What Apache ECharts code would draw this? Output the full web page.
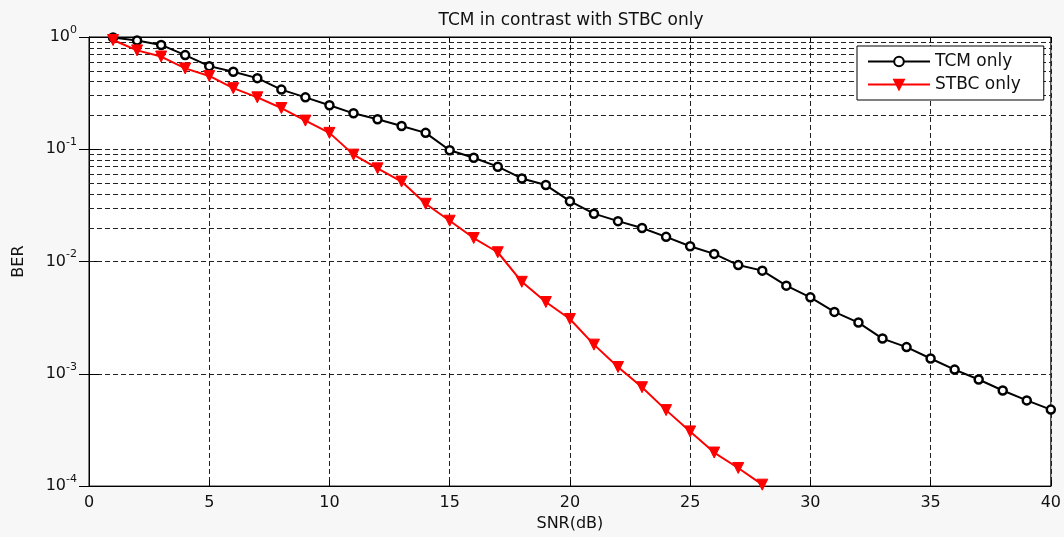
<!DOCTYPE html>
<html>
<head>
<meta charset="utf-8">
<script src="https://cdn.jsdelivr.net/npm/echarts@6/dist/echarts.min.js"></script>
<style>
html,body{margin:0;padding:0;background:#f7f7f7;}
#c{width:1064px;height:537px;}
</style>
</head>
<body>
<div id="c"></div>
<script>
var snr = [1,2,3,4,5,6,7,8,9,10,11,12,13,14,15,16,17,18,19,20,21,22,23,24,25,26,27,28,29,30,31,32,33,34,35,36,37,38,39,40];
var tcmBer = [0.99,0.93,0.85,0.69,0.55,0.49,0.43,0.34,0.29,0.247,0.209,0.185,0.161,0.14,0.098,0.084,0.070,0.055,0.048,0.0345,0.0267,0.0229,0.0199,0.0166,0.0137,0.0117,0.0093,0.0083,0.0061,0.0048,0.00356,0.00286,0.00206,0.00173,0.00137,0.00109,0.00089,0.00071,0.00058,0.00048];
var stbcBer = [0.94,0.76,0.67,0.525,0.45,0.35,0.29,0.233,0.18,0.14,0.0896,0.0676,0.0516,0.0327,0.0231,0.0162,0.0121,0.0066,0.00436,0.00308,0.00182,0.00115,0.00076,0.000475,0.000307,0.000199,0.000145,0.000103];
var xTicks = [0,5,10,15,20,25,30,35,40];
var yDecades = [1e-4,1e-3,1e-2,1e-1,1];
var minorMult = [2,3,4,5,6,7,8,9];

function pairs(xs, ys){ var o=[]; for(var i=0;i<ys.length;i++) o.push([xs[i], ys[i]]); return o; }
var minorLines = [];
for (var d=0; d<yDecades.length-1; d++) {
  for (var m=0; m<minorMult.length; m++) minorLines.push({yAxis: yDecades[d]*minorMult[m]});
}
var F = 'DejaVu Sans';
var chart = echarts.init(document.getElementById('c'));
var gridDash = {type:[5,3], color:'#222', width:1};
chart.setOption({
  backgroundColor:'#f7f7f7',
  animation:false,
  title:{text:'TCM in contrast with STBC only', left:566, textAlign:'center', top:7,
    textStyle:{fontFamily:F, fontSize:17, fontWeight:'normal', color:'#111'}},
  legend:{left:857, top:46, orient:'vertical', backgroundColor:'#fff', borderColor:'#000', borderWidth:1,
    padding:[7,23,7,10], itemWidth:62, itemHeight:12, itemGap:6,
    textStyle:{fontFamily:F, fontSize:17, color:'#111'},
    data:['TCM only','STBC only']},
  grid:{left:89, right:11, top:37, bottom:43, show:true, backgroundColor:'#fff', borderColor:'#000', borderWidth:1},
  xAxis:[{type:'value', min:0, max:40, interval:5,
    name:'SNR(dB)', nameLocation:'middle', nameGap:28,
    nameTextStyle:{fontFamily:F, fontSize:16, color:'#111'},
    axisLine:{lineStyle:{color:'#000'}},
    axisTick:{inside:true, length:6, lineStyle:{color:'#000'}},
    axisLabel:{fontFamily:F, fontSize:16, color:'#111', margin:9},
    splitLine:{show:true, lineStyle:gridDash}},
    {type:'value', min:0, max:40, interval:5, position:'top',
    axisLine:{lineStyle:{color:'#000'}}, axisTick:{inside:true, length:6, lineStyle:{color:'#000'}},
    axisLabel:{show:false}, splitLine:{show:false}}],
  yAxis:[{type:'log', logBase:10, min:1e-4, max:1,
    name:'BER', nameLocation:'middle', nameGap:62,
    nameTextStyle:{fontFamily:F, fontSize:16, color:'#111'},
    axisLine:{lineStyle:{color:'#000'}},
    axisTick:{inside:true, length:10, lineStyle:{color:'#000'}},
    axisLabel:{margin:12, formatter:function(v){ var e=Math.round(Math.log10(v)); return '{b|10}{s|'+e+'}'; },
      rich:{b:{fontFamily:F, fontSize:16, color:'#111'}, s:{fontFamily:F, fontSize:11, color:'#111', padding:[0,0,14,0]}}},
    splitLine:{show:true, lineStyle:gridDash}},
    {type:'log', logBase:10, min:1e-4, max:1, position:'right',
    axisLine:{lineStyle:{color:'#000'}}, axisTick:{inside:true, length:10, lineStyle:{color:'#000'}},
    axisLabel:{show:false}, splitLine:{show:false}}],
  series:[
    {name:'TCM only', type:'line', data:pairs(snr, tcmBer), symbol:'circle', symbolSize:8, z:3,
     lineStyle:{color:'#000', width:2}, itemStyle:{color:'#fff', borderColor:'#000', borderWidth:2.5},
     markLine:{silent:true, symbol:'none', label:{show:false}, lineStyle:gridDash, data:minorLines, z:1}},
    {name:'STBC only', type:'line', data:pairs(snr, stbcBer), symbol:'triangle', symbolRotate:180, symbolSize:11, z:4,
     lineStyle:{color:'#ff0000', width:2}, itemStyle:{color:'#ff0000', borderColor:'#ff0000', borderWidth:1}}
  ]
});
</script>
</body>
</html>
